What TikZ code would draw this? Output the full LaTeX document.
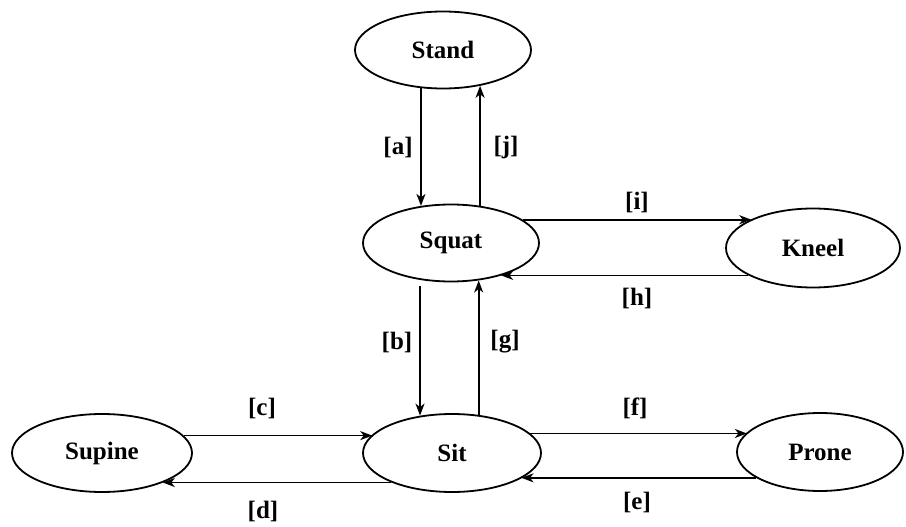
\documentclass[tikz,border=0pt]{standalone}
\usepackage{fontspec}
\setmainfont{Liberation Serif}
\usetikzlibrary{shapes.geometric,arrows.meta}

\tikzset{
  state/.style={draw, ellipse, line width=1.8pt, inner sep=0pt,
    minimum width=176pt, minimum height=77pt,
    font=\bfseries\fontsize{25}{27}\selectfont},
  arr/.style={line width=1.7pt, -{Stealth[length=12pt,width=9pt,inset=3.5pt]}},
  lbl/.style={font=\bfseries\fontsize{25}{27}\selectfont, inner sep=0pt}
}

\begin{document}
\begin{tikzpicture}[x=1pt, y=-1pt]
  \useasboundingbox (0,0) rectangle (906,527);

  % posture states
  \node[state] (Stand)  at (443,50)  {Stand};
  \node[state] (Squat)  at (451,243) {Squat};
  \node[state, minimum width=174pt, minimum height=79pt] (Kneel) at (813,248) {Kneel};
  \node[state, minimum width=180pt, minimum height=78pt] (Supine) at (102,453) {Supine};
  \node[state, minimum width=178pt, minimum height=78pt] (Sit) at (452,453) {Sit};
  \node[state, minimum width=166pt, minimum height=78pt] (Prone) at (820,452) {Prone};

  % Stand <-> Squat
  \draw[arr] (Stand.240) -- (Stand.240 |- Squat.129);
  \draw[arr] (Squat.52.5) -- (Squat.52.5 |- Stand.316);
  % Squat <-> Sit
  \draw[arr, shorten <=6pt] (Squat.230) -- (Squat.230 |- Sit.130);
  \draw[arr] (Sit.55) -- (Sit.55 |- Squat.306);
  % Squat <-> Kneel
  \draw[arr] (Squat.18) -- (Squat.18 -| Kneel.155.5);
  \draw[arr] (Kneel.203) -- (Kneel.203 -| Squat.327);
  % Supine <-> Sit
  \draw[arr] (Supine.12.7) -- (Supine.12.7 -| Sit.167.2);
  \draw[arr] (Sit.206) -- (Sit.206 -| Supine.334.3);
  % Sit <-> Prone
  \draw[arr] (Sit.14.7) -- (Sit.14.7 -| Prone.165.3);
  \draw[arr] (Prone.202.8) -- (Prone.202.8 -| Sit.340);

  % transition labels
  \node[lbl] (la) at (398,147) {[a]};
  \node[lbl] (lj) at (506,147) {[j]};
  \node[lbl] (lb) at (397,342) {[b]};
  \node[lbl] (lg) at (505,342) {[g]};
  \node[lbl] (li) at (637,202) {[i]};
  \node[lbl] (lh) at (637,298) {[h]};
  \node[lbl] (lc) at (262,408) {[c]};
  \node[lbl] (ld) at (263,511) {[d]};
  \node[lbl] (lf) at (635,408) {[f]};
  \node[lbl] (le) at (637,502) {[e]};
\end{tikzpicture}
\end{document}
